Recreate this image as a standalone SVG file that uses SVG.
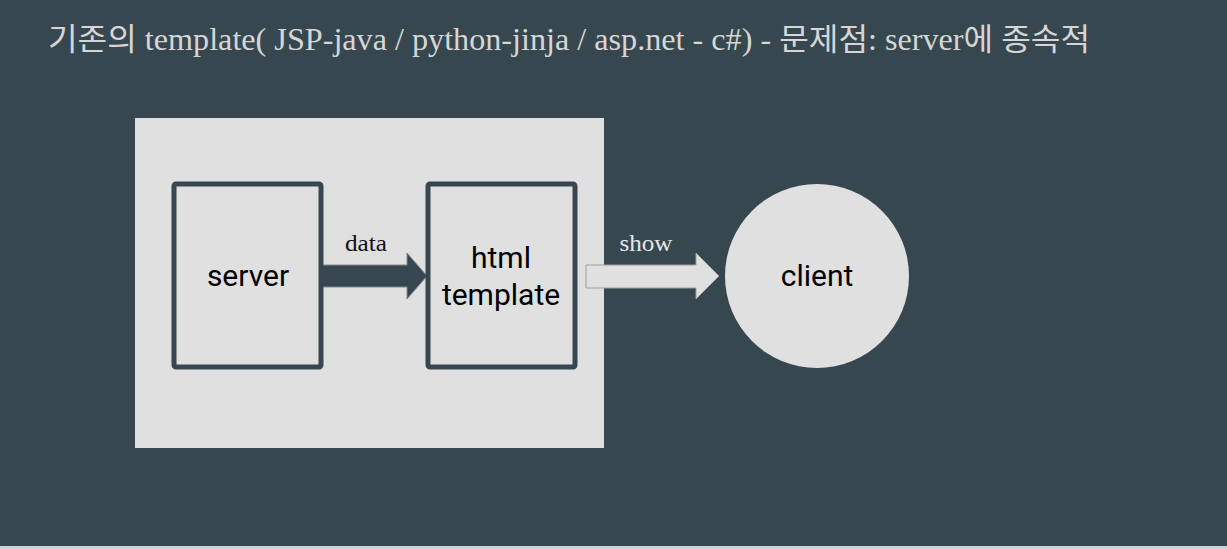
<svg xmlns="http://www.w3.org/2000/svg" width="1227" height="549" viewBox="0 0 1227 549">
<style>
.title{font-family:"Liberation Serif","Noto Sans CJK KR",serif;font-size:31px;fill:#d6d6d6}
.lbl{font-family:Roboto,"Liberation Sans",sans-serif;font-size:30px;fill:#000;text-anchor:middle}
.elbl{font-family:"Liberation Serif","DejaVu Serif",serif;font-size:23px;text-anchor:middle}
.box{fill:#e0e0e0;stroke:#37474f;stroke-width:5}
</style>
<rect x="0" y="0" width="1227" height="549" fill="#37474f"/>
<rect x="0" y="546" width="1227" height="3" fill="#d0d4d6"/>
<text class="title" x="48" y="50" textLength="1042" lengthAdjust="spacingAndGlyphs">기존의 template( JSP-java / python-jinja / asp.net - c#) - 문제점: server에 종속적</text>
<rect id="panel" x="135" y="118" width="469" height="330" fill="#e0e0e0"/>
<g id="connectors">
  <polygon points="320,265 407,265 407,253 427,276 407,299 407,287 320,287" fill="#37474f" stroke="#8a8a8a" stroke-width="1"/>
  <text class="elbl" x="366" y="251" fill="#111" textLength="42" lengthAdjust="spacingAndGlyphs">data</text>
  <polygon points="586,265 696,265 696,253 719,276 696,299 696,288 586,288" fill="#e0e0e0" stroke="#9e9e9e" stroke-width="1"/>
  <text class="elbl" x="646" y="251" fill="#e6e6e6" textLength="53" lengthAdjust="spacingAndGlyphs">show</text>
</g>
<g id="server">
  <rect class="box" x="174" y="184" width="147" height="183" rx="2"/>
  <text class="lbl" x="248" y="286">server</text>
</g>
<g id="template">
  <rect class="box" x="428" y="184" width="147" height="183" rx="2"/>
  <text class="lbl" x="501" y="268">html</text>
  <text class="lbl" x="501" y="305">template</text>
</g>
<g id="client">
  <circle cx="817" cy="276" r="92" fill="#e0e0e0"/>
  <text class="lbl" x="817" y="286">client</text>
</g>
</svg>
